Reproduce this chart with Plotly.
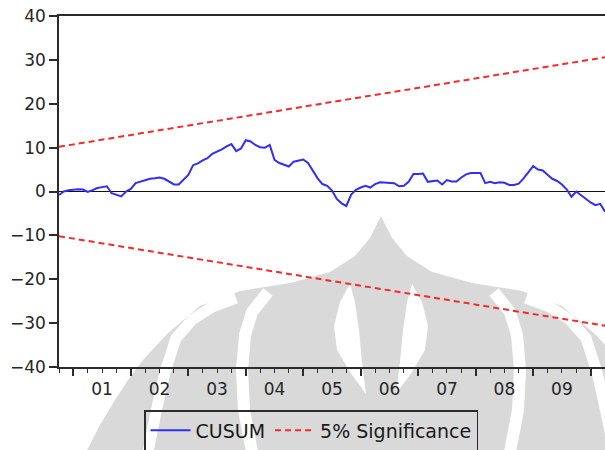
import pandas as pd
import plotly.graph_objects as go

# Recursive-residual CUSUM statistic, monthly, Oct 2000 – Apr 2010
START_MONTH = "2000-10"
CUSUM = [
    -0.8, 0.0, 0.3, 0.45, 0.5, 0.45, -0.1, 0.3, 0.8, 1.0,
    1.2, -0.4, -0.8, -1.1, 0.0, 0.6, 1.9, 2.2, 2.5, 2.9,
    3.0, 3.2, 2.9, 2.3, 1.6, 1.6, 2.6, 3.8, 6.0, 6.4,
    7.1, 7.6, 8.6, 9.1, 9.6, 10.3, 10.8, 9.2, 9.8, 11.7,
    11.4, 10.6, 10.1, 10.0, 10.6, 7.2, 6.5, 6.1, 5.7, 6.8,
    7.0, 7.3, 6.5, 4.7, 3.0, 1.7, 1.3, 0.2, -1.7, -2.7,
    -3.3, -0.7, 0.4, 0.9, 1.3, 0.9, 1.7, 2.1, 2.0, 2.0,
    1.9, 1.2, 1.3, 2.2, 4.0, 4.0, 4.1, 2.2, 2.4, 2.5,
    1.6, 2.6, 2.3, 2.3, 3.2, 3.9, 4.2, 4.2, 4.2, 1.9,
    2.2, 1.9, 2.1, 2.0, 1.5, 1.5, 1.8, 3.0, 4.5, 5.8,
    5.0, 4.8, 3.8, 2.9, 2.4, 1.6, 0.5, -1.2, 0.0, -0.9,
    -1.6, -2.5, -3.1, -2.8, -4.6,
]

# 5% significance bounds: straight lines between first and last observation
SIG_UPPER = [10.2, 30.6]
SIG_LOWER = [-10.2, -30.6]

YEAR_LABELS = ["01", "02", "03", "04", "05", "06", "07", "08", "09"]
YEAR_LABEL_POS = [2001.5, 2002.5, 2003.5, 2004.5, 2005.5, 2006.5, 2007.5, 2008.5, 2009.5]
YEAR_TICKS = [2001, 2002, 2003, 2004, 2005, 2006, 2007, 2008, 2009, 2010]
Y_TICKS = [-40, -30, -20, -10, 0, 10, 20, 30, 40]

periods = pd.period_range(START_MONTH, periods=len(CUSUM), freq="M")
t = [p.year + (p.month - 1) / 12 for p in periods]
sig_t = [t[0], t[-1]]

BLUE = "#2f2ff5"
RED = "#f52a2a"
AXIS = "#2b2b2b"
FONT = dict(family="DejaVu Sans, Arial, sans-serif", size=17, color="#262626")

W, H = 605, 450
M_L, M_R, M_T, M_B = 59, 0, 16, 83
PW, PH = W - M_L - M_R, H - M_T - M_B

# ---- faint background emblem (symmetric about a vertical centre line) ----
CX = 381
EMBLEM_GREY = "#d9d9d9"
# left half of the silhouette, bottom to tip (page pixels)
SILHOUETTE_L = [(86, 452), (100, 425), (115, 400), (128, 380), (143, 360),
                (167, 334), (200, 306), (240, 291), (290, 283), (330, 272),
                (355, 256), (370, 238), (381, 216)]
OUTER_BAND_L = [(148, 452), (156, 412), (165, 372), (176, 338), (192, 320),
                (212, 307), (236, 298)]
INNER_BAND_L = [(252, 452), (244, 410), (242, 370), (245, 335), (252, 312),
                (268, 292)]
LEAF_L = [(350, 284), (340, 302), (334, 326), (337, 350), (350, 372),
          (366, 394), (362, 362), (359, 330), (355, 302)]


def to_paper(px, py):
    return (px - M_L) / PW, (H - M_B - py) / PH


def mirror(pts):
    return [(2 * CX - x, y) for x, y in pts]


def svg_path(pts, close=False):
    cmds = []
    for k, (px, py) in enumerate(pts):
        ax, ay = to_paper(px, py)
        cmds.append(("M" if k == 0 else "L") + f"{ax:.4f},{ay:.4f}")
    return " ".join(cmds) + (" Z" if close else "")


silhouette = SILHOUETTE_L + mirror(SILHOUETTE_L[:-1])[::-1]
shapes = [dict(type="path", xref="paper", yref="paper", layer="below",
               path=svg_path(silhouette, close=True),
               fillcolor=EMBLEM_GREY, line=dict(width=0))]
for band, width in ((OUTER_BAND_L, 11), (INNER_BAND_L, 12)):
    for pts in (band, mirror(band)):
        shapes.append(dict(type="path", xref="paper", yref="paper", layer="below",
                           path=svg_path(pts), line=dict(color="white", width=width)))
for pts in (LEAF_L, mirror(LEAF_L)):
    shapes.append(dict(type="path", xref="paper", yref="paper", layer="below",
                       path=svg_path(pts, close=True), fillcolor="white",
                       line=dict(width=0)))

fig = go.Figure()
fig.add_trace(go.Scatter(
    x=t, y=CUSUM, mode="lines", name="CUSUM",
    line=dict(color=BLUE, width=2),
))
fig.add_trace(go.Scatter(
    x=sig_t, y=SIG_UPPER, mode="lines", name="5% Significance",
    line=dict(color=RED, width=2, dash="6px,4px"),
))
fig.add_trace(go.Scatter(
    x=sig_t, y=SIG_LOWER, mode="lines", showlegend=False,
    xaxis="x2",
    line=dict(color=RED, width=2, dash="6px,4px"),
))

x_range = [t[0], t[-1]]

fig.update_layout(
    width=W, height=H,
    margin=dict(l=M_L, r=M_R, t=M_T, b=M_B, autoexpand=False),
    paper_bgcolor="white", plot_bgcolor="rgba(0,0,0,0)",
    font=FONT,
    showlegend=True,
    shapes=shapes,
    legend=dict(
        orientation="h",
        x=(144 - M_L) / PW, y=(H - M_B - 410) / PH, xanchor="left", yanchor="top",
        bordercolor=AXIS, borderwidth=1.5,
        bgcolor="rgba(255,255,255,0)",
        font=dict(family="DejaVu Sans, Arial, sans-serif", size=19, color="#1a1a1a"),
        itemwidth=40,
        tracegroupgap=0,
    ),
    xaxis=dict(
        range=x_range,
        showgrid=False, zeroline=False,
        showline=True, linecolor=AXIS, linewidth=1.5, mirror=True,
        tickmode="array", tickvals=YEAR_TICKS, ticktext=[""] * len(YEAR_TICKS),
        ticks="outside", ticklen=7, tickwidth=1.5, tickcolor=AXIS,
        minor=dict(dtick=0.25, tick0=2000, ticks="outside", ticklen=4,
                   tickwidth=1.2, tickcolor=AXIS, showgrid=False),
    ),
    xaxis2=dict(
        overlaying="x", anchor="y", side="bottom",
        range=x_range,
        showgrid=False, zeroline=False, showline=False,
        tickmode="array", tickvals=YEAR_LABEL_POS, ticktext=YEAR_LABELS,
        ticks="outside", ticklen=7, tickcolor="rgba(0,0,0,0)",
        tickfont=FONT,
    ),
    yaxis=dict(
        range=[-40, 40],
        showgrid=False,
        zeroline=True, zerolinecolor="#111111", zerolinewidth=1.4,
        showline=True, linecolor=AXIS, linewidth=1.5, mirror=False,
        tickmode="array", tickvals=Y_TICKS,
        ticks="outside", ticklen=8, tickwidth=1.5, tickcolor=AXIS,
        tickfont=FONT,
    ),
)

fig.write_html("out.html")
